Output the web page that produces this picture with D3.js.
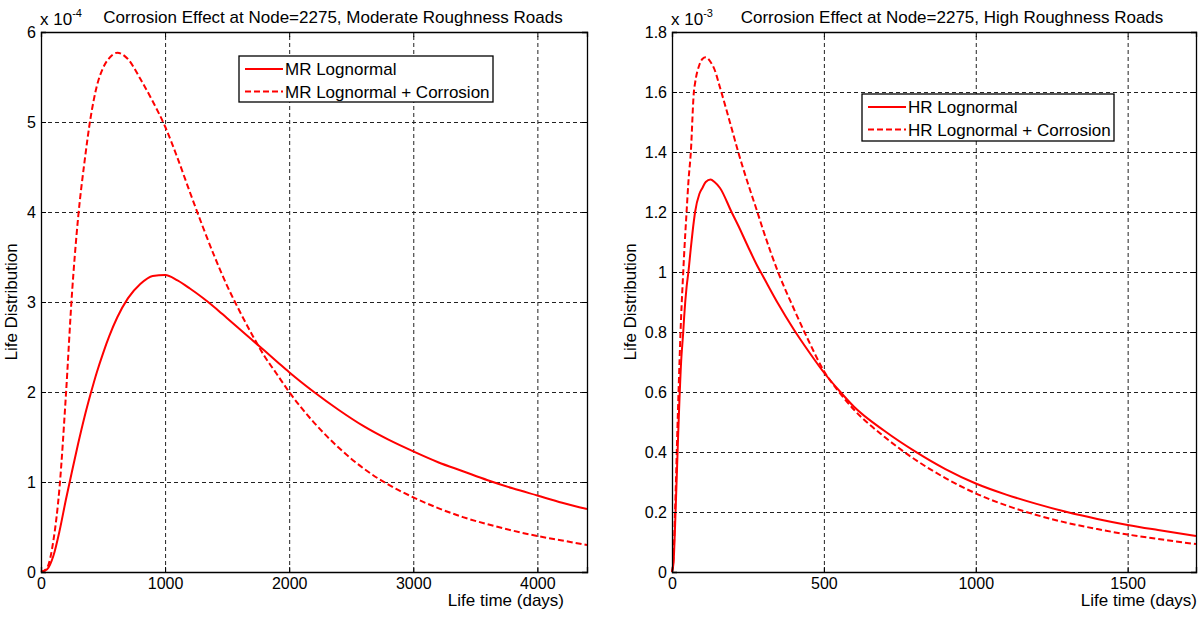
<!DOCTYPE html>
<html>
<head>
<meta charset="utf-8">
<script src="https://cdn.jsdelivr.net/npm/d3@7"></script>
<style>
  body { margin: 0; background: #fff; }
  text { font-family: "Liberation Sans", Arial, sans-serif; fill: #000; }
</style>
</head>
<body>
<svg id="chart" width="1199" height="617"></svg>
<script>
// moderate roughness (values x 1e-4)
const mrDays = [0, 50, 100, 150, 200, 250, 300, 350, 400, 450, 500, 550, 615, 700, 800, 900, 1000, 1100, 1200, 1300, 1400, 1500, 1600, 1700, 1800, 1900, 2000, 2200, 2400, 2600, 2800, 3000, 3200, 3400, 3600, 3800, 4000, 4200, 4400];
const mrLognormal = [0, 0.03, 0.18, 0.46, 0.8, 1.12, 1.43, 1.72, 1.98, 2.22, 2.43, 2.62, 2.83, 3.04, 3.2, 3.29, 3.3, 3.24, 3.15, 3.05, 2.94, 2.82, 2.7, 2.58, 2.46, 2.34, 2.22, 2.0, 1.8, 1.62, 1.47, 1.34, 1.22, 1.12, 1.02, 0.93, 0.85, 0.77, 0.7];
const mrCorrosion = [0, 0.05, 0.35, 0.95, 1.95, 3.1, 3.95, 4.55, 5.05, 5.4, 5.6, 5.71, 5.77, 5.7, 5.48, 5.23, 4.95, 4.6, 4.22, 3.85, 3.5, 3.18, 2.9, 2.64, 2.4, 2.2, 2.0, 1.66, 1.38, 1.15, 0.97, 0.83, 0.71, 0.61, 0.53, 0.46, 0.4, 0.35, 0.3];

// high roughness (values x 1e-3)
const hrDays = [0, 5, 10, 20, 30, 37, 40, 48, 54, 62, 72, 76, 90, 100, 111, 127, 140, 158, 196, 218, 250, 281, 300, 349, 400, 450, 500, 550, 600, 700, 800, 900, 1000, 1100, 1200, 1300, 1400, 1500, 1600, 1725];
const hrLognormal = [0, 0.03, 0.15, 0.45, 0.7, 0.8, 0.85, 0.95, 1.0, 1.08, 1.17, 1.2, 1.26, 1.28, 1.3, 1.308, 1.3, 1.28, 1.2, 1.155, 1.085, 1.02, 0.985, 0.895, 0.81, 0.735, 0.665, 0.605, 0.55, 0.47, 0.402, 0.343, 0.295, 0.258, 0.227, 0.2, 0.177, 0.157, 0.14, 0.12];
const hrCorrosion = [0, 0.05, 0.2, 0.55, 0.85, 1.0, 1.06, 1.2, 1.3, 1.4, 1.6, 1.63, 1.69, 1.71, 1.716, 1.7, 1.675, 1.615, 1.48, 1.4, 1.295, 1.2, 1.14, 1.0, 0.88, 0.77, 0.67, 0.6, 0.54, 0.45, 0.375, 0.313, 0.262, 0.222, 0.19, 0.164, 0.143, 0.125, 0.11, 0.093];

const mrXTicks = [0, 1000, 2000, 3000, 4000];
const mrYTicks = [0, 1, 2, 3, 4, 5, 6];
const hrXTicks = [0, 500, 1000, 1500];
const hrYTicks = [0, 0.2, 0.4, 0.6, 0.8, 1, 1.2, 1.4, 1.6, 1.8];

const titles = ["Corrosion Effect at Node=2275, Moderate Roughness Roads", "Corrosion Effect at Node=2275, High Roughness Roads"];
const mrLegend = ["MR Lognormal", "MR Lognormal + Corrosion"];
const hrLegend = ["HR Lognormal", "HR Lognormal + Corrosion"];

const svg = d3.select("#chart");

function drawPanel(p) {
  const g = svg.append("g");
  const x = d3.scaleLinear().domain([0, p.xMax]).range([p.left, p.right]);
  const y = d3.scaleLinear().domain([0, p.yMax]).range([p.bottom, p.top]);
  const h = p.bottom - p.top, w = p.right - p.left;

  // grid
  g.append("g").attr("transform", `translate(0,${p.bottom})`)
    .call(d3.axisBottom(x).tickValues(p.xTicks).tickSize(-h).tickFormat(""))
    .call(a => a.select(".domain").remove())
    .selectAll("line").attr("stroke", "#222").attr("stroke-dasharray", "4,3");
  g.append("g").attr("transform", `translate(${p.left},0)`)
    .call(d3.axisLeft(y).tickValues(p.yTicks).tickSize(-w).tickFormat(""))
    .call(a => a.select(".domain").remove())
    .selectAll("line").attr("stroke", "#222").attr("stroke-dasharray", "4,3");

  // curves
  const line = d3.line().x((d, i) => x(p.days[i])).y(d => y(d)).curve(d3.curveMonotoneX);
  g.append("path").datum(p.base).attr("d", line)
    .attr("fill", "none").attr("stroke", "#ff0000").attr("stroke-width", 2);
  g.append("path").datum(p.corr).attr("d", line)
    .attr("fill", "none").attr("stroke", "#ff0000").attr("stroke-width", 2).attr("stroke-dasharray", "6,3");

  // axes box + inward ticks
  const gx = g.append("g").attr("transform", `translate(0,${p.bottom})`)
    .call(d3.axisBottom(x).tickValues(p.xTicks).tickSize(-5).tickPadding(6).tickFormat(d3.format("d")));
  g.append("g").attr("transform", `translate(0,${p.top})`)
    .call(d3.axisTop(x).tickValues(p.xTicks).tickSize(-5).tickFormat(""));
  const gy = g.append("g").attr("transform", `translate(${p.left},0)`)
    .call(d3.axisLeft(y).tickValues(p.yTicks).tickSize(-5).tickPadding(5).tickFormat(d => String(+d.toFixed(1))));
  g.append("g").attr("transform", `translate(${p.right},0)`)
    .call(d3.axisRight(y).tickValues(p.yTicks).tickSize(-5).tickFormat(""));
  g.selectAll(".domain").attr("stroke", "#000").attr("stroke-width", 1.3);
  g.selectAll(".tick line").filter(function() { return !this.getAttribute("stroke-dasharray"); }).attr("stroke", "#000");
  gx.selectAll("text").attr("font-size", 16).attr("fill", "#000");
  gy.selectAll("text").attr("font-size", 16).attr("fill", "#000");

  // exponent label
  const ex = g.append("text").attr("x", p.left - 1).attr("y", p.top - 7).attr("font-size", 17);
  ex.append("tspan").text("x 10");
  ex.append("tspan").attr("font-size", 11).attr("dy", -8).text(p.exp);

  g.append("text").attr("x", p.titleX).attr("y", 23).attr("text-anchor", "middle")
    .attr("font-size", 17).text(p.title);
  g.append("text").attr("text-anchor", "end").attr("x", p.xlabelX).attr("y", 606)
    .attr("font-size", 17).text("Life time (days)");
  g.append("text").attr("transform", `translate(${p.ylabelX},${(p.top + p.bottom) / 2}) rotate(-90)`)
    .attr("text-anchor", "middle").attr("font-size", 17).text("Life Distribution");

  // legend
  const L = p.legend;
  const lg = g.append("g");
  lg.append("rect").attr("x", L.x).attr("y", L.y).attr("width", L.w).attr("height", L.h)
    .attr("fill", "#fff").attr("stroke", "#000").attr("stroke-width", 1.3);
  p.legendText.forEach((t, i) => {
    const ly = L.y + 13 + i * 22.5;
    lg.append("line").attr("x1", L.x + 6).attr("x2", L.x + 44).attr("y1", ly).attr("y2", ly)
      .attr("stroke", "#ff0000").attr("stroke-width", 2)
      .attr("stroke-dasharray", i ? "6,3" : null);
    lg.append("text").attr("x", L.x + 46).attr("y", ly + 6).attr("font-size", 17).text(t);
  });
}

drawPanel({
  left: 41, right: 587, top: 32, bottom: 572, xMax: 4400, yMax: 6,
  xTicks: mrXTicks, yTicks: mrYTicks, days: mrDays, base: mrLognormal, corr: mrCorrosion,
  exp: "-4", title: titles[0], titleX: 333, xlabelX: 564, ylabelX: 17,
  legend: { x: 239, y: 56, w: 254, h: 46 }, legendText: mrLegend
});
drawPanel({
  left: 672, right: 1196, top: 32, bottom: 572, xMax: 1725, yMax: 1.8,
  xTicks: hrXTicks, yTicks: hrYTicks, days: hrDays, base: hrLognormal, corr: hrCorrosion,
  exp: "-3", title: titles[1], titleX: 952, xlabelX: 1197, ylabelX: 636,
  legend: { x: 862, y: 94, w: 252, h: 47 }, legendText: hrLegend
});
</script>
</body>
</html>
